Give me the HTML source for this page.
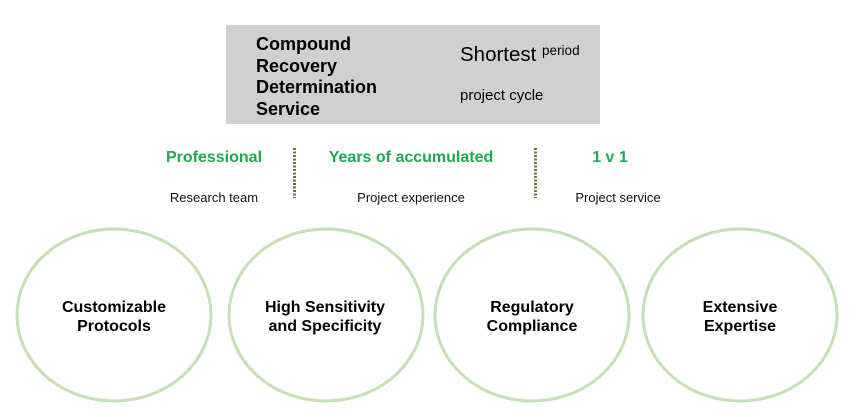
<!DOCTYPE html>
<html><head><style>
html,body{margin:0;padding:0;background:#fff;}
body{width:856px;height:417px;position:relative;overflow:hidden;font-family:"Liberation Sans",Arial,sans-serif;}
.a{position:absolute;white-space:nowrap;}
.g{color:#1eaa50;font-weight:bold;font-size:16px;text-align:center;}
.s{color:#111;font-size:13px;text-align:center;}
.c{font-weight:bold;font-size:16px;color:#000;text-align:center;line-height:19px;}
</style></head><body>
<div class="a" style="left:226px;top:25px;width:374px;height:99px;background:#d0d0d0;"></div>
<div class="a" style="left:256px;top:34px;font-weight:bold;font-size:18px;line-height:21.5px;color:#000;">Compound<br>Recovery<br>Determination<br>Service</div>
<div class="a" style="left:460px;top:43px;font-size:20.5px;color:#000;">Shortest <span style="font-size:13.5px;vertical-align:6px;">period</span></div>
<div class="a" style="left:460px;top:87px;font-size:15px;color:#000;">project cycle</div>
<div class="a g" style="left:114px;width:200px;top:149px;">Professional</div>
<div class="a g" style="left:311px;width:200px;top:149px;">Years of accumulated</div>
<div class="a g" style="left:510px;width:200px;top:149px;">1 v 1</div>
<div class="a s" style="left:114px;width:200px;top:190px;">Research team</div>
<div class="a s" style="left:311px;width:200px;top:190px;">Project experience</div>
<div class="a s" style="left:518px;width:200px;top:190px;">Project service</div>
<svg class="a" style="left:0;top:0" width="856" height="417">
<line x1="294.5" y1="148" x2="294.5" y2="198" stroke="#5f7f35" stroke-width="3" stroke-dasharray="2,1.5"/>
<line x1="535.5" y1="148" x2="535.5" y2="198" stroke="#5f7f35" stroke-width="3" stroke-dasharray="2,1.5"/>
<g fill="none" stroke="#c6dfb4" stroke-width="3">
<ellipse cx="114" cy="315" rx="97" ry="86"/>
<ellipse cx="326" cy="315" rx="97" ry="86"/>
<ellipse cx="532" cy="315" rx="97" ry="86"/>
<ellipse cx="740" cy="315" rx="97" ry="86"/>
</g></svg>
<div class="a c" style="left:14px;width:200px;top:298px;">Customizable<br>Protocols</div>
<div class="a c" style="left:225px;width:200px;top:298px;">High Sensitivity<br>and Specificity</div>
<div class="a c" style="left:432px;width:200px;top:298px;">Regulatory<br>Compliance</div>
<div class="a c" style="left:640px;width:200px;top:298px;">Extensive<br>Expertise</div>
</body></html>
